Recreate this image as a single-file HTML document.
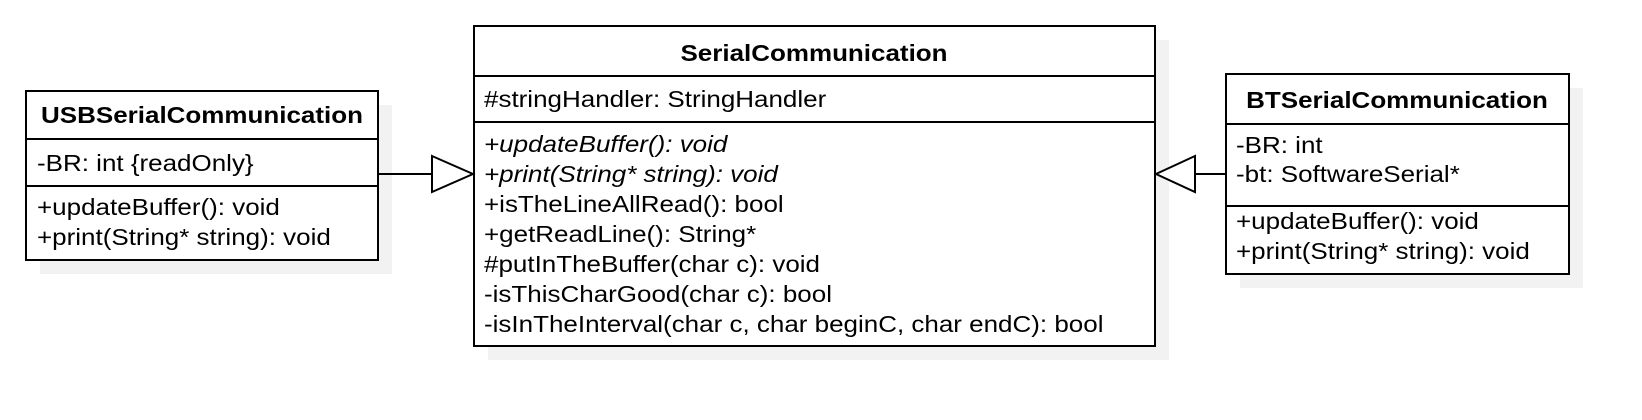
<!DOCTYPE html>
<html><head><meta charset="utf-8"><style>html,body{margin:0;padding:0;background:#fff;}svg{display:block}</style></head>
<body>
<svg width="1642" height="420" xmlns="http://www.w3.org/2000/svg" font-family="Liberation Sans, sans-serif" font-size="23" fill="#000">
<rect x="40" y="105" width="352" height="169" fill="#f2f2f2"/>
<rect x="488" y="40" width="681" height="320" fill="#f2f2f2"/>
<rect x="1240" y="88" width="343" height="200" fill="#f2f2f2"/>
<g stroke="#000" stroke-width="2" fill="#fff">
<rect x="26" y="91" width="352" height="169"/>
<line x1="26" y1="139" x2="378" y2="139"/><line x1="26" y1="186" x2="378" y2="186"/>
<rect x="474" y="26" width="681" height="320"/>
<line x1="474" y1="76" x2="1155" y2="76"/><line x1="474" y1="122" x2="1155" y2="122"/>
<rect x="1226" y="74" width="343" height="200"/>
<line x1="1226" y1="124" x2="1569" y2="124"/><line x1="1226" y1="206" x2="1569" y2="206"/>
<line x1="378" y1="174" x2="432" y2="174"/>
<polygon points="432,156 473,174 432,192"/>
<line x1="1195" y1="174" x2="1226" y2="174"/>
<polygon points="1195,156 1156,174 1195,192"/>
</g>
<g transform="translate(202,123) scale(1.13,1)"><text font-weight="bold" text-anchor="middle">USBSerialCommunication</text></g>
<g transform="translate(37,0) scale(1.13,1)">
<text y="171">-BR: int {readOnly}</text>
<text y="215">+updateBuffer(): void</text>
<text y="245">+print(String* string): void</text>
</g>
<g transform="translate(814,61) scale(1.13,1)"><text font-weight="bold" text-anchor="middle">SerialCommunication</text></g>
<g transform="translate(484,0) scale(1.13,1)">
<text y="107">#stringHandler: StringHandler</text>
<text y="152" font-style="italic">+updateBuffer(): void</text>
<text y="182" font-style="italic">+print(String* string): void</text>
<text y="212">+isTheLineAllRead(): bool</text>
<text y="242">+getReadLine(): String*</text>
<text y="272">#putInTheBuffer(char c): void</text>
<text y="302">-isThisCharGood(char c): bool</text>
<text y="332">-isInTheInterval(char c, char beginC, char endC): bool</text>
</g>
<g transform="translate(1397,108) scale(1.13,1)"><text font-weight="bold" text-anchor="middle">BTSerialCommunication</text></g>
<g transform="translate(1236,0) scale(1.13,1)">
<text y="153">-BR: int</text>
<text y="182">-bt: SoftwareSerial*</text>
<text y="229">+updateBuffer(): void</text>
<text y="259">+print(String* string): void</text>
</g>
</svg>
</body></html>
